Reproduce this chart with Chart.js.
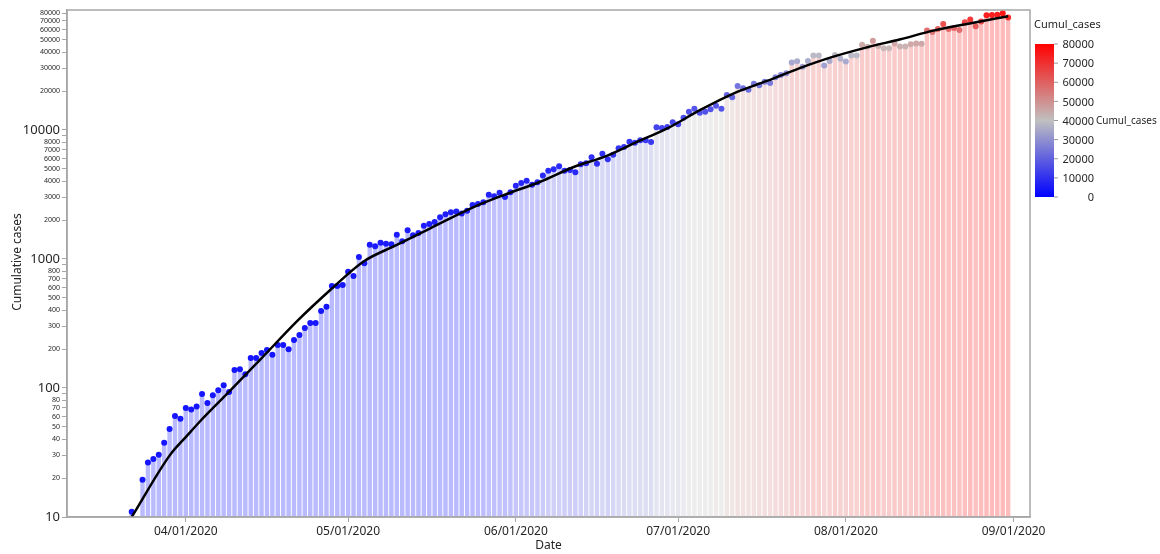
<!DOCTYPE html>
<html>
<head>
<meta charset="utf-8">
<script src="https://cdn.jsdelivr.net/npm/chart.js@4.4.1/dist/chart.umd.min.js"></script>
<style>
  html, body { margin: 0; padding: 0; background: #fff; }
  #wrap { width: 1160px; height: 554px; position: relative; }
</style>
</head>
<body>
<div id="wrap"><canvas id="chart"></canvas></div>
<script>
// day numbers count from 03/01/2020 (= day 0)
const firstCaseDay = 21;          // 03/22/2020, then daily from 03/24/2020
const dailyStartDay = 23;

// cumulative cases, one value per day (first value is day 21, rest from day 23 on)
const cumulCases = [11,
  19.4, 26.4, 28.2, 30.4, 37.7, 48, 60.7, 57.8, 70, 68,
  72, 90, 76.6, 88, 96, 105, 93, 138, 140, 128,
  171, 171, 187, 197, 181, 215, 215, 200, 235, 258,
  292, 319, 319, 395, 427, 618, 618, 628, 797, 738,
  1038, 927, 1292, 1254, 1337, 1315, 1300, 1543, 1371, 1668,
  1527, 1592, 1813, 1867, 1935, 2110, 2221, 2305, 2330, 2250,
  2367, 2615, 2669, 2752, 3150, 3060, 3265, 3026, 3290, 3700,
  3880, 4045, 3767, 3933, 4428, 4836, 4960, 5230, 4836, 4900,
  4700, 5420, 5520, 6140, 5480, 6550, 5930, 6430, 7210, 7380,
  8110, 7970, 8310, 8310, 8070, 10500, 10370, 10550, 11470, 11070,
  12450, 13860, 14620, 13610, 13860, 14460, 15420, 14620, 18650, 17900,
  21900, 21040, 20530, 22860, 22200, 23650, 23120, 25580, 26670, 27520,
  33270, 34120, 30970, 34300, 37700, 37700, 31540, 34300, 38120, 35700,
  33900, 37700, 37700, 45800, 44200, 49200, 44800, 43000, 43000, 46700,
  44400, 44400, 46200, 46700, 46500, 58900, 57500, 60700, 66400, 60700,
  61800, 59600, 68400, 71700, 63700, 69200, 77500, 77800, 78100, 80300,
  74300];

// smoothed fit (black curve)
const trendDays   = [21, 28.1, 31.2, 33.6, 39.2, 44.7, 51.8, 57.7, 63.8, 70, 76.2, 84.1, 90.3, 96.5, 102.6, 108.8, 115, 119.9, 126.1, 132.3, 138.4, 144.6, 150.7, 156.9, 163.1, 169.2, 175.4, 183];
const trendValues = [10, 30.3, 42.5, 55, 95.3, 165, 337, 575, 953, 1285, 1729, 2516, 3190, 3970, 5140, 6300, 8300, 10230, 14290, 19230, 23990, 30300, 37000, 43700, 50500, 58900, 66400, 76000];

// axis ticks
const monthDays   = [31, 61, 92, 122, 153, 184];
const monthLabels = ['04/01/2020', '05/01/2020', '06/01/2020', '07/01/2020', '08/01/2020', '09/01/2020'];
const yTickValues = [10, 20, 30, 40, 50, 60, 70, 80, 90,
  100, 200, 300, 400, 500, 600, 700, 800, 900,
  1000, 2000, 3000, 4000, 5000, 6000, 7000, 8000, 9000,
  10000, 20000, 30000, 40000, 50000, 60000, 70000, 80000];
const yMajorTicks = [10, 100, 1000, 10000];
const yUnlabelled = [90, 900, 9000];
const legendTicks = [0, 10000, 20000, 30000, 40000, 50000, 60000, 70000, 80000];

const caseDays = [firstCaseDay];
for (let i = 1; i < cumulCases.length; i++) caseDays.push(dailyStartDay + i - 1);

const FONT = "'Noto Sans', 'Open Sans', sans-serif";
const TXT = '#262626';
const AXIS = '#a6a6a6';

// blue -> gray -> red, t in [0,1]
function cmap(t) {
  t = Math.max(0, Math.min(1, t));
  if (t < 0.5) {
    const s = t / 0.5;
    return [192 * s, 192 * s, 255 - 63 * s];
  }
  const s = (t - 0.5) / 0.5;
  return [192 + 63 * s, 192 - 192 * s, 192 - 192 * s];
}
function rgb(c) { return `rgb(${Math.round(c[0])},${Math.round(c[1])},${Math.round(c[2])})`; }
function tint(c, a) { return c.map(v => v * a + 255 * (1 - a)); }

const pointColors = cumulCases.map(v => rgb(tint(cmap(v / 80000), 0.92)));
const lo = Math.log10(2500), hi = Math.log10(80000);
const barColors = cumulCases.map(v => rgb(tint(cmap((Math.log10(v) - lo) / (hi - lo)), 0.27)));

const decorPlugin = {
  id: 'decor',
  afterDraw(chart) {
    const { ctx, chartArea: a } = chart;
    ctx.save();
    // plot frame
    ctx.strokeStyle = AXIS;
    ctx.lineWidth = 1.5;
    ctx.strokeRect(a.left, a.top, a.right - a.left, a.bottom - a.top);

    // axis titles
    ctx.fillStyle = TXT;
    ctx.font = `12px ${FONT}`;
    ctx.textAlign = 'center';
    ctx.textBaseline = 'middle';
    ctx.fillText('Date', (a.left + a.right) / 2, 546);
    ctx.save();
    ctx.translate(18, 262);
    ctx.rotate(-Math.PI / 2);
    ctx.fillText('Cumulative cases', 0, 0);
    ctx.restore();

    // colour legend
    const lx = 1035, lw = 19, ly0 = 44, ly1 = 197;
    ctx.textAlign = 'left';
    ctx.font = `11px ${FONT}`;
    ctx.fillText('Cumul_cases', 1034, 25);
    const g = ctx.createLinearGradient(0, ly0, 0, ly1);
    g.addColorStop(0, rgb(cmap(1)));
    g.addColorStop(0.5, rgb(cmap(0.5)));
    g.addColorStop(1, rgb(cmap(0)));
    ctx.fillStyle = g;
    ctx.fillRect(lx, ly0, lw, ly1 - ly0);
    ctx.strokeStyle = '#9a9a9a';
    ctx.lineWidth = 1;
    ctx.fillStyle = TXT;
    ctx.textAlign = 'right';
    legendTicks.forEach(v => {
      const y = ly1 - (v / 80000) * (ly1 - ly0);
      ctx.beginPath();
      ctx.moveTo(lx + lw, y);
      ctx.lineTo(lx + lw + 4, y);
      ctx.stroke();
      ctx.fillText(String(v), 1094, y + 1);
    });
    ctx.textAlign = 'left';
    ctx.font = `10px ${FONT}`;
    ctx.fillText('Cumul_cases', 1096, ly1 - 0.5 * (ly1 - ly0) + 1);
    ctx.restore();
  }
};

new Chart(document.getElementById('chart'), {
  type: 'bar',
  data: {
    datasets: [
      {
        type: 'line',
        data: trendDays.map((d, i) => ({ x: d, y: trendValues[i] })),
        borderColor: '#000',
        borderWidth: 2.5,
        pointRadius: 0,
        cubicInterpolationMode: 'monotone',
        order: 1
      },
      {
        type: 'scatter',
        data: caseDays.map((d, i) => ({ x: d, y: cumulCases[i] })),
        pointBackgroundColor: pointColors,
        pointBorderWidth: 0,
        pointRadius: 3,
        order: 2
      },
      {
        type: 'bar',
        data: caseDays.map((d, i) => ({ x: d, y: cumulCases[i] })),
        backgroundColor: barColors,
        borderWidth: 0,
        barPercentage: 0.82,
        categoryPercentage: 1,
        base: 10,
        order: 3
      }
    ]
  },
  options: {
    responsive: true,
    maintainAspectRatio: false,
    animation: false,
    layout: { padding: { left: 0, right: 130, top: 10, bottom: 0 } },
    plugins: { legend: { display: false }, tooltip: { enabled: false } },
    scales: {
      x: {
        type: 'linear',
        min: 9.04,
        max: 187.04,
        offset: false,
        bounds: 'data',
        afterBuildTicks: s => { s.ticks = monthDays.map(v => ({ value: v })); },
        afterFit: s => { s.height = 37; },
        grid: { drawOnChartArea: false, tickLength: 5, color: AXIS, offset: false },
        border: { color: AXIS, width: 1.5 },
        ticks: {
          autoSkip: false,
          maxRotation: 0,
          padding: 2,
          color: TXT,
          font: { family: FONT, size: 12 },
          callback: (v, i) => monthLabels[i]
        }
      },
      y: {
        type: 'logarithmic',
        min: 10,
        max: 85100,
        bounds: 'data',
        afterBuildTicks: s => { s.ticks = yTickValues.map(v => ({ value: v })); },
        afterFit: s => { s.width = 67; },
        grid: { drawOnChartArea: false, tickLength: 5, color: AXIS },
        border: { color: AXIS, width: 1.5 },
        ticks: {
          autoSkip: false,
          padding: 2,
          color: TXT,
          font: c => (c.tick && yMajorTicks.includes(c.tick.value))
            ? { family: FONT, size: 13 }
            : { family: FONT, size: 7 },
          callback: v => yUnlabelled.includes(v) ? '' : String(v)
        }
      }
    }
  },
  plugins: [decorPlugin]
});
</script>
</body>
</html>
